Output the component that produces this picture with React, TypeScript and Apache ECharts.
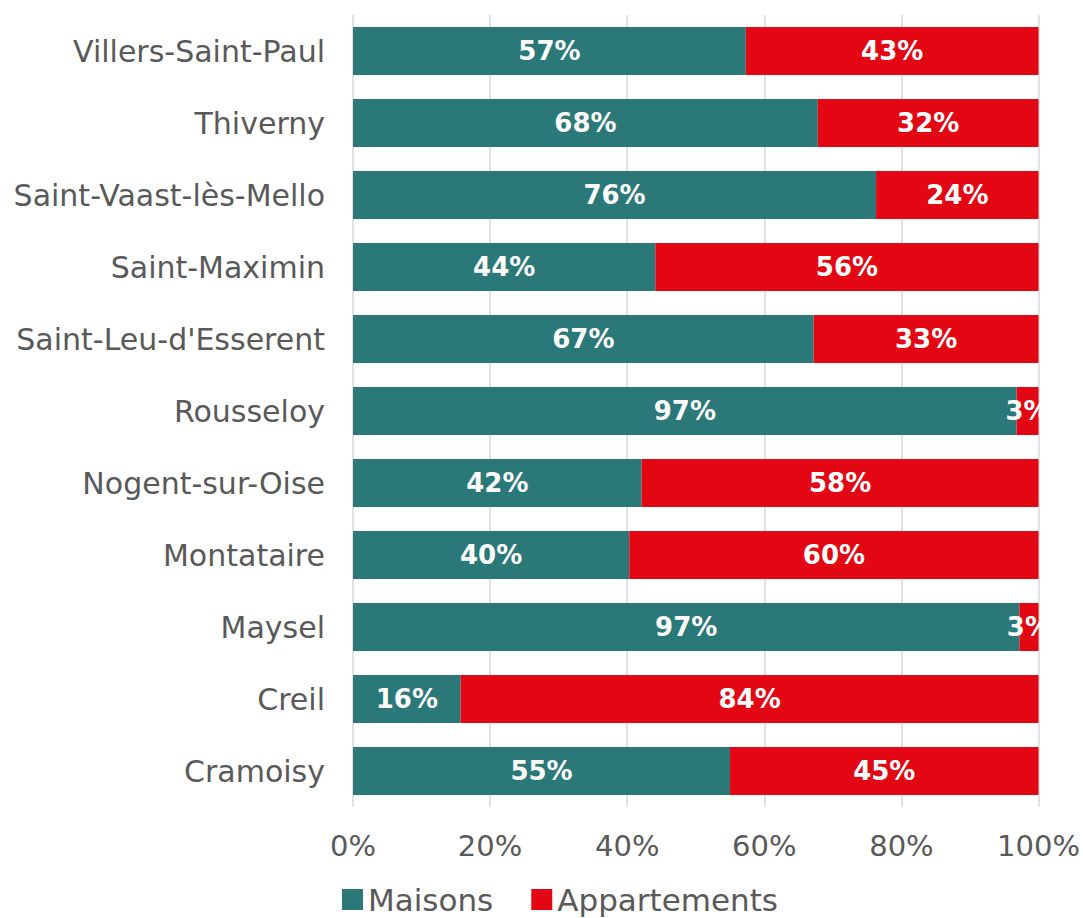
import React, { useEffect, useRef } from "react";
import * as echarts from "echarts";

const categories = [
  "Cramoisy",
  "Creil",
  "Maysel",
  "Montataire",
  "Nogent-sur-Oise",
  "Rousseloy",
  "Saint-Leu-d'Esserent",
  "Saint-Maximin",
  "Saint-Vaast-lès-Mello",
  "Thiverny",
  "Villers-Saint-Paul",
];

const maisons = [55.0, 15.7, 97.2, 40.3, 42.1, 96.8, 67.2, 44.1, 76.3, 67.8, 57.3];
const appartements = [45.0, 84.3, 2.8, 59.7, 57.9, 3.2, 32.8, 55.9, 23.7, 32.2, 42.7];

const xTicks = [0, 20, 40, 60, 80, 100];

const FONT = "DejaVu Sans, Verdana, sans-serif";

export default function App() {
  const ref = useRef<HTMLDivElement>(null);

  useEffect(() => {
    if (!ref.current) return;
    const chart = echarts.init(ref.current, undefined, { renderer: "svg" });
    const label = {
      show: true,
      position: "inside",
      color: "#ffffff",
      fontWeight: "bold",
      fontSize: 26,
      fontFamily: FONT,
      formatter: (p: any) => Math.round(p.value) + "%",
    };
    chart.setOption({
      animation: false,
      grid: { left: 353, right: 43, top: 15, bottom: 111 },
      legend: {
        top: 879,
        left: 337,
        itemWidth: 21,
        itemHeight: 21,
        itemGap: 38,
        icon: "rect",
        textStyle: { fontSize: 31, color: "#595959", fontFamily: FONT },
        data: ["Maisons", "Appartements"],
      },
      xAxis: {
        type: "value",
        min: xTicks[0],
        max: xTicks[xTicks.length - 1],
        interval: 20,
        axisLabel: {
          formatter: "{value}%",
          fontSize: 29,
          color: "#595959",
          fontFamily: FONT,
          margin: 24,
        },
        splitLine: { show: true, lineStyle: { color: "#d9d9d9", width: 1.5 } },
        axisLine: { show: false },
        axisTick: { show: false },
      },
      yAxis: {
        type: "category",
        data: categories,
        axisLabel: {
          fontSize: 30,
          color: "#595959",
          fontFamily: FONT,
          margin: 28,
        },
        axisLine: { show: false },
        axisTick: { show: false },
      },
      series: [
        {
          name: "Maisons",
          type: "bar",
          stack: "total",
          data: maisons,
          barCategoryGap: "33%",
          itemStyle: { color: "#2a7878" },
          label,
        },
        {
          name: "Appartements",
          type: "bar",
          stack: "total",
          data: appartements,
          barCategoryGap: "33%",
          itemStyle: { color: "#e30613" },
          label,
        },
      ],
    });
    return () => chart.dispose();
  }, []);

  return (
    <div
      ref={ref}
      style={{ position: "absolute", left: 0, top: 0, width: 1083, height: 918 }}
    />
  );
}
